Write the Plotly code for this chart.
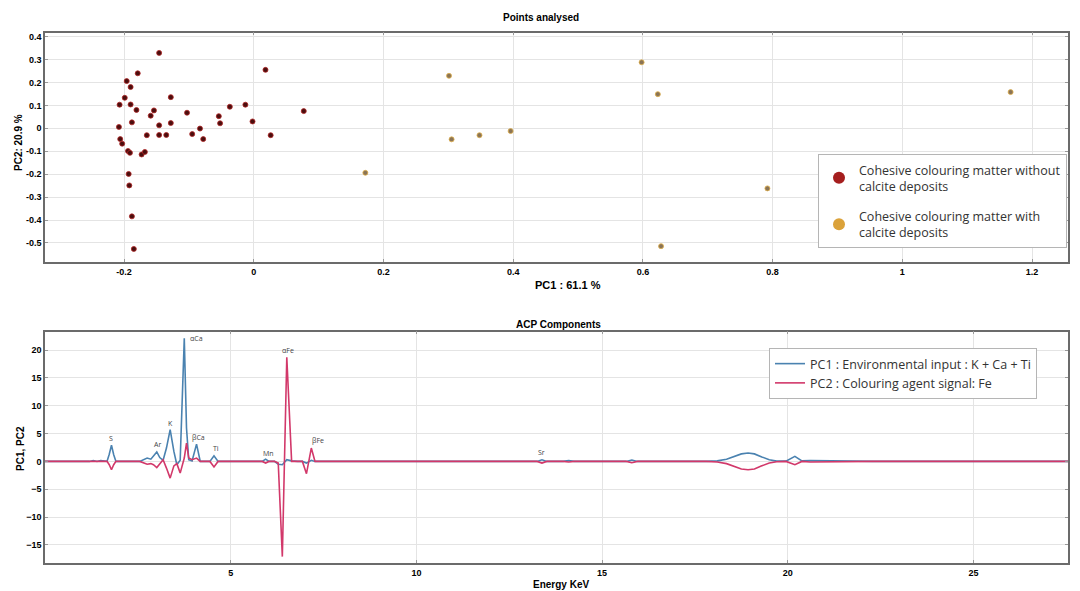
import plotly.graph_objects as go

# ---------------- Top panel data (PC scores) ----------------
pc1_no_calcite = [-0.146, -0.179, -0.196, -0.190, 0.018, -0.199, -0.128, -0.207, -0.190, -0.181,
                  -0.154, -0.159, -0.103, -0.013, -0.037, 0.077, -0.054, -0.052, -0.002, -0.188,
                  -0.128, -0.146, -0.208, -0.083, -0.165, -0.146, -0.135, -0.095, -0.078, 0.026,
                  -0.206, -0.203, -0.194, -0.191, -0.173, -0.168, -0.193, -0.192, -0.188, -0.185]
pc2_no_calcite = [0.329, 0.240, 0.206, 0.180, 0.255, 0.133, 0.136, 0.103, 0.104, 0.080,
                  0.078, 0.055, 0.068, 0.103, 0.094, 0.075, 0.053, 0.022, 0.030, 0.026,
                  0.023, 0.013, 0.006, -0.001, -0.030, -0.029, -0.029, -0.025, -0.047, -0.030,
                  -0.047, -0.067, -0.099, -0.107, -0.114, -0.103, -0.199, -0.249, -0.384, -0.526]

pc1_calcite = [0.301, 0.305, 0.348, 0.396, 0.172, 0.598, 0.623, 0.628, 1.167, 0.792]
pc2_calcite = [0.229, -0.048, -0.030, -0.012, -0.194, 0.288, 0.149, -0.514, 0.158, -0.262]

top_xticks = [-0.2, 0, 0.2, 0.4, 0.6, 0.8, 1, 1.2]
top_xticklabels = ["-0.2", "0", "0.2", "0.4", "0.6", "0.8", "1", "1.2"]
top_yticks = [0.4, 0.3, 0.2, 0.1, 0, -0.1, -0.2, -0.3, -0.4, -0.5]
top_yticklabels = ["0.4", "0.3", "0.2", "0.1", "0", "-0.1", "-0.2", "-0.3", "-0.4", "-0.5"]

# ---------------- Bottom panel data (loadings) ----------------
energy = [0.00, 1.20, 1.30, 1.40, 1.50, 1.60, 1.67, 1.73, 1.79, 1.85, 1.91,
          2.55, 2.65, 2.75, 2.85, 2.92, 3.01, 3.09, 3.18, 3.27, 3.37, 3.47,
          3.55, 3.64, 3.75, 3.81, 3.87, 3.96, 4.08, 4.18,
          4.44, 4.55, 4.66, 5.85, 5.94, 6.03, 6.18, 6.28, 6.39, 6.51, 6.64, 6.80,
          6.93, 7.04, 7.17, 7.27, 7.40,
          13.25, 13.38, 13.51, 13.95, 14.10, 14.25, 15.65, 15.80, 15.95,
          17.80, 18.10, 18.35, 18.55, 18.75, 18.93, 19.10, 19.30, 19.50, 19.70,
          19.95, 20.19, 20.38, 20.60, 21.00, 21.50, 22.30, 27.80]
pc1_load = [0.0, 0.0, 0.15, 0.0, 0.15, 0.0, 0.0, 1.3, 2.9, 1.2, 0.0,
            0.0, 0.3, 0.6, 0.4, 0.9, 1.7, 0.7, 0.2, 2.4, 5.7, 1.8,
            -0.6, 0.2, 22.1, 6.0, 0.3, 0.1, 3.1, 0.0,
            0.0, 1.0, 0.0, 0.0, 0.4, 0.0, 0.0, -0.5, -0.6, 0.3, 0.1, 0.0,
            0.0, -0.3, 0.2, 0.0, 0.0,
            0.0, 0.3, 0.0, 0.0, 0.15, 0.0, 0.0, 0.25, 0.0,
            0.0, 0.1, 0.4, 0.9, 1.35, 1.5, 1.35, 0.8, 0.3, 0.05,
            0.05, 0.9, 0.1, 0.15, 0.1, 0.05, 0.0, 0.0]
pc2_load = [0.0, 0.0, -0.1, 0.0, -0.1, 0.0, 0.0, -0.6, -1.5, -0.6, 0.0,
            0.0, -0.2, -0.5, -0.4, -0.6, -1.1, -0.4, 0.3, -1.2, -3.0, -0.8,
            -0.4, -2.1, 0.6, 3.3, 0.6, 0.3, 0.6, 0.0,
            0.0, -1.0, 0.0, 0.0, -0.3, 0.0, 0.0, -0.3, -17.1, 18.7, 0.0, 0.0,
            0.0, -2.2, 2.4, 0.0, 0.0,
            0.0, -0.3, 0.0, 0.0, -0.1, 0.0, 0.0, -0.25, 0.0,
            0.0, -0.1, -0.4, -0.9, -1.35, -1.5, -1.35, -0.8, -0.3, -0.05,
            0.0, -0.6, 0.0, -0.1, -0.05, -0.05, 0.0, 0.0]

peak_names = ["S", "Ar", "K", "\u03b1Ca", "\u03b2Ca", "Ti", "Mn", "\u03b1Fe", "\u03b2Fe", "Sr"]
peak_x = [1.77, 3.03, 3.37, 4.07, 4.13, 4.60, 6.01, 6.54, 7.35, 13.38]
peak_y = [4.2, 3.1, 6.75, 22.0, 4.3, 2.3, 1.5, 19.9, 3.7, 1.6]

bot_xticks = [5, 10, 15, 20, 25]
bot_yticks = [20, 15, 10, 5, 0, -5, -10, -15]

# ---------------- Styling ----------------
RED = "#a51e1e"
ORANGE = "#dba23a"
BLUE = "#4a82b0"
PINK = "#d2386a"
OFF = 8  # page body margin offset
W, H = 1080 - 2 * OFF, 591 - OFF


def PX(px):
    return (px - OFF) / W


def PY(py):
    return 1 - (py - OFF) / H


fig = go.Figure()

# top scatter (real points)
fig.add_trace(go.Scatter(x=pc1_no_calcite, y=pc2_no_calcite, mode="markers",
                         marker=dict(size=5, color="#4a0e0e", line=dict(color="#b02424", width=0.8)),
                         showlegend=False, xaxis="x", yaxis="y"))
fig.add_trace(go.Scatter(x=pc1_calcite, y=pc2_calcite, mode="markers",
                         marker=dict(size=5, color="#8a7456", line=dict(color="#e0ae4a", width=0.8)),
                         showlegend=False, xaxis="x", yaxis="y"))
# legend entries for top panel
fig.add_trace(go.Scatter(x=[None], y=[None], mode="markers",
                         marker=dict(size=12, color=RED), legendgroup="a",
                         name="Cohesive colouring matter without<br>calcite deposits",
                         legend="legend", xaxis="x", yaxis="y"))
fig.add_trace(go.Scatter(x=[None], y=[None], mode="markers",
                         marker=dict(size=12, color=ORANGE), legendgroup="b",
                         name="Cohesive colouring matter with<br>calcite deposits",
                         legend="legend", xaxis="x", yaxis="y"))

# bottom lines
fig.add_trace(go.Scatter(x=energy, y=pc1_load, mode="lines",
                         line=dict(color=BLUE, width=1.6),
                         name="PC1 : Environmental input : K + Ca + Ti",
                         legend="legend2", xaxis="x2", yaxis="y2"))
fig.add_trace(go.Scatter(x=energy, y=pc2_load, mode="lines",
                         line=dict(color=PINK, width=1.6),
                         name="PC2 : Colouring agent signal: Fe",
                         legend="legend2", xaxis="x2", yaxis="y2"))

tickfont = dict(family="Liberation Sans", size=9, color="#000", weight="bold")
axis_common = dict(showgrid=True, gridcolor="#e4e4e4", gridwidth=1, zeroline=False,
                   showline=True, linecolor="#6b6b6b", linewidth=1.5, mirror="allticks",
                   ticks="inside", ticklen=3, tickcolor="#999", tickfont=tickfont,
                   automargin=False)

RIGHT = 1068
xd = [PX(45), PX(RIGHT)]
top_xmax = 1.2 + (RIGHT - 1032) / 648.5
bot_xmax = 25 + (RIGHT - 973.5) / 37.15
fig.update_layout(
    width=W, height=H,
    margin=dict(l=0, r=0, t=0, b=0),
    paper_bgcolor="white", plot_bgcolor="white",
    xaxis=dict(domain=xd, range=[-0.322, top_xmax], tickvals=top_xticks, ticktext=top_xticklabels,
               anchor="y", **axis_common),
    yaxis=dict(domain=[PY(262), PY(32.7)], range=[-0.583, 0.417], tickvals=top_yticks,
               ticktext=top_yticklabels, anchor="x", **axis_common),
    xaxis2=dict(domain=xd, range=[0, bot_xmax], tickvals=bot_xticks, anchor="y2", **axis_common),
    yaxis2=dict(domain=[PY(563), PY(331.7)], range=[-18.25, 23.3], tickvals=bot_yticks,
                anchor="x2", **axis_common),
    legend=dict(x=PX(RIGHT - 1), y=PY(154), xanchor="right", yanchor="top",
                bgcolor="white", bordercolor="#b5b5b5", borderwidth=1,
                font=dict(family="Open Sans", size=12.5, color="#333"),
                tracegroupgap=11),
    legend2=dict(x=PX(769), y=PY(348), xanchor="left", yanchor="top",
                 bgcolor="white", bordercolor="#b5b5b5", borderwidth=1,
                 font=dict(family="Open Sans", size=12.5, color="#333")),
)

ann = []


def label(text, x, y, size=10, angle=0):
    return dict(text=text, x=PX(x), y=PY(y), xref="paper", yref="paper",
                xanchor="center", yanchor="middle", showarrow=False, textangle=angle,
                font=dict(family="Liberation Sans", size=size, color="#000"))


ann.append(label("<b>Points analysed</b>", 541, 18))
ann.append(label("<b>PC1 : 61.1 %</b>", 568, 285, size=11))
ann.append(label("<b>PC2: 20.9 %</b>", 18, 143, angle=-90))
ann.append(label("<b>ACP Components</b>", 558, 324))
ann.append(label("<b>Energy KeV</b>", 561, 584))
ann.append(label("<b>PC1, PC2</b>", 20, 449, angle=-90))
for name, px, py in zip(peak_names, peak_x, peak_y):
    ann.append(dict(text=name, x=px, y=py, xref="x2", yref="y2", showarrow=False,
                    xanchor="center", yanchor="middle",
                    font=dict(family="Open Sans", size=7, color="#444")))
fig.update_layout(annotations=ann)

fig.write_html("out.html")
